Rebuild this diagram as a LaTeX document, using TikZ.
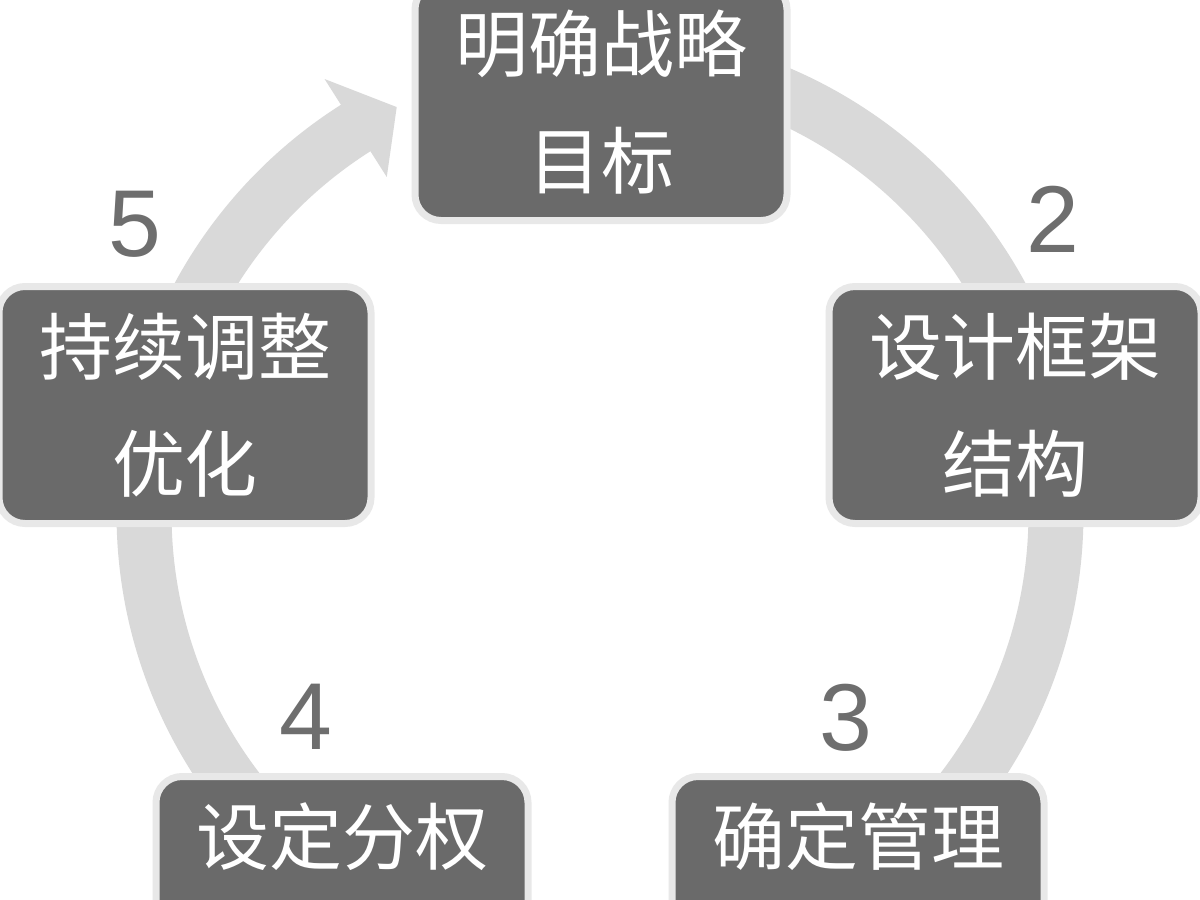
\documentclass[tikz,border=0pt]{standalone}
\usepackage{fontspec}
\usetikzlibrary{calc}
\newfontfamily\cjk{Noto Sans CJK SC}
\newfontfamily\numfont{Liberation Sans}
\definecolor{ringgray}{HTML}{D9D9D9}
\definecolor{boxgray}{HTML}{6A6A6A}
\definecolor{edgegray}{HTML}{E8E8E8}
\definecolor{numgray}{HTML}{6E6E6E}
\begin{document}
\begin{tikzpicture}[x=1pt,y=-1pt,
  stepbox/.style={rectangle, rounded corners=26pt, fill=boxgray, draw=edgegray, line width=7pt,
    minimum width=372pt, minimum height=237pt, inner sep=0pt, text=white, align=center,
    font=\cjk\fontsize{73}{117}\selectfont},
  onebox/.style={stepbox, text height=64pt, text depth=126pt},
  num/.style={text=numgray, font=\numfont\fontsize{95}{95}\selectfont, inner sep=0pt},
  ring/.style={draw=ringgray, line width=55pt}]
\useasboundingbox (0,0) rectangle (1200,900);
\clip (0,0) rectangle (1200,900);
\fill[white] (0,0) rectangle (1200,900);
\coordinate (c) at (600,513);
\draw[ring] (c) ++(-90:456) arc[start angle=-90, end angle=238.2, radius=456];
\fill[ringgray] ($(c)+(237.6:514)$) -- ($(c)+(243.4:454)$) -- ($(c)+(237.6:398)$) -- cycle;
\node[stepbox] (s1) at (601,102) {明确战略\\目标};
\node[stepbox] (s2) at (1015,405) {设计框架\\结构};
\node[onebox] (s3) at (858,895) {确定管理};
\node[onebox] (s4) at (342,895) {设定分权};
\node[stepbox] (s5) at (185,405) {持续调整\\优化};
\node[num] (n2) at (1053,219) {2};
\node[num] (n3) at (846,718) {3};
\node[num] (n4) at (306,717) {4};
\node[num] (n5) at (135,224) {5};
\end{tikzpicture}
\end{document}
